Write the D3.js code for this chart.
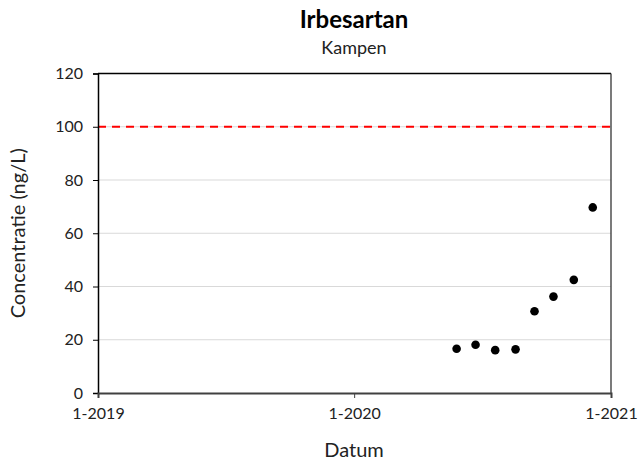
<!DOCTYPE html>
<html><head><meta charset="utf-8">
<script src="https://cdn.jsdelivr.net/npm/d3@7"></script>
<style>body{margin:0;background:#fff}svg{display:block}</style>
</head><body>
<svg id="c" width="638" height="466"></svg>
<script>
const dates = ["2020-05-26","2020-06-22","2020-07-20","2020-08-18","2020-09-14","2020-10-11","2020-11-09","2020-12-06"];
const values = [16.6, 18.1, 16.1, 16.4, 30.7, 36.2, 42.5, 69.7];
const yTicks = [0, 20, 40, 60, 80, 100, 120];
const xTickDates = ["2019-01-01","2020-01-01","2021-01-01"];
const xTickLabels = ["1-2019","1-2020","1-2021"];
const limit = 100;

const font = "Lato, 'Open Sans', sans-serif";
const svg = d3.select("#c");
const L = 98, R = 611, T = 73.5, B = 393;
const parse = d3.utcParse("%Y-%m-%d");
const x = d3.scaleUtc().domain([parse(xTickDates[0]), parse(xTickDates[2])]).range([L, R]);
const y = d3.scaleLinear().domain([0, 120]).range([B, T]);

// gridlines
svg.append("g").selectAll("line").data(yTicks.filter(d => d > 0 && d < 120)).join("line")
  .attr("x1", L).attr("x2", R).attr("y1", d => y(d)).attr("y2", d => y(d))
  .attr("stroke", "#d9d9d9").attr("stroke-width", 1);

// limit line
svg.append("line").attr("x1", L).attr("x2", R).attr("y1", y(limit)).attr("y2", y(limit))
  .attr("stroke", "#ff0000").attr("stroke-width", 2).attr("stroke-dasharray", "8,6");

// border box
svg.append("line").attr("x1", L).attr("x2", R).attr("y1", T).attr("y2", T).attr("stroke", "#000").attr("stroke-width", 1.3);
svg.append("line").attr("x1", R).attr("x2", R).attr("y1", T).attr("y2", B).attr("stroke", "#333").attr("stroke-width", 1.3);

// y axis
const ya = svg.append("g").attr("transform", `translate(${L},0)`)
  .call(d3.axisLeft(y).tickValues(yTicks).tickSize(5).tickPadding(10));
ya.select(".domain").attr("stroke", "#000").attr("stroke-width", 1.5);
ya.selectAll(".tick line").attr("stroke", "#000");
ya.selectAll("text").attr("font-family", font).attr("font-size", 16).attr("fill", "#222");

// x axis
const xa = svg.append("g").attr("transform", `translate(0,${B})`)
  .call(d3.axisBottom(x).tickValues(xTickDates.map(parse)).tickFormat((d, i) => xTickLabels[i]).tickSize(5).tickPadding(10));
xa.select(".domain").attr("stroke", "#404040").attr("stroke-width", 2);
xa.selectAll(".tick line").attr("stroke", "#404040");
xa.selectAll("text").attr("font-family", font).attr("font-size", 16).attr("fill", "#222");

// points
svg.append("g").selectAll("circle").data(dates.map((d, i) => ({d: parse(d), v: values[i]}))).join("circle")
  .attr("cx", p => x(p.d)).attr("cy", p => y(p.v)).attr("r", 4.3).attr("fill", "#000");

// titles
svg.append("text").attr("x", 354).attr("y", 28).attr("text-anchor", "middle")
  .attr("font-family", font).attr("font-weight", "bold").attr("font-size", 24).attr("fill", "#000").text("Irbesartan");
svg.append("text").attr("x", 354).attr("y", 54).attr("text-anchor", "middle")
  .attr("font-family", font).attr("font-size", 18).attr("fill", "#222").text("Kampen");
svg.append("text").attr("x", 354).attr("y", 457).attr("text-anchor", "middle")
  .attr("font-family", font).attr("font-size", 20).attr("fill", "#222").text("Datum");
svg.append("text").attr("transform", `translate(25,${(T + B) / 2}) rotate(-90)`).attr("text-anchor", "middle")
  .attr("font-family", font).attr("font-size", 20).attr("fill", "#222").text("Concentratie (ng/L)");
</script>
</body></html>
